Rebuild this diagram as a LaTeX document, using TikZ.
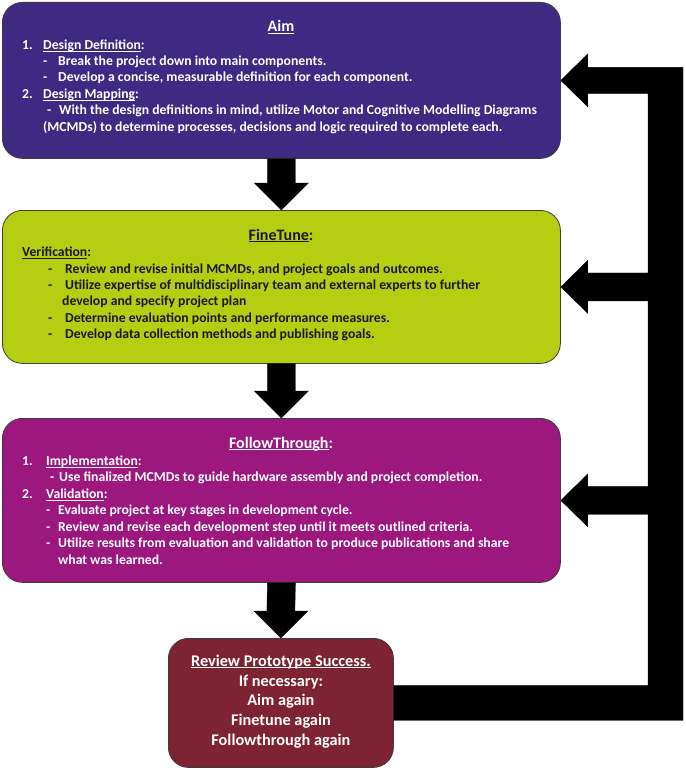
\documentclass[tikz,border=0pt]{standalone}
\usepackage{fontspec}
\setmainfont{Carlito}
\usetikzlibrary{calc}
\definecolor{aimc}{RGB}{62,41,131}
\definecolor{finec}{RGB}{181,206,18}
\definecolor{follc}{RGB}{156,24,126}
\definecolor{revc}{RGB}{126,35,50}
\definecolor{edgec}{RGB}{60,60,60}
\definecolor{darktxt}{RGB}{25,25,25}
\newsavebox\ulbox
\newcommand{\ulx}[1]{\sbox\ulbox{#1}\rlap{\rule[-2.2pt]{\wd\ulbox}{0.9pt}}\usebox\ulbox}
\tikzset{
  box/.style={draw=edgec, line width=0.8pt, rounded corners=20pt, anchor=north west, inner sep=0pt},
  body/.style={font=\fontsize{13.7}{16.5}\selectfont\bfseries, inner sep=0pt, anchor=base west},
  ttl/.style={font=\fontsize{16}{19}\selectfont\bfseries, inner sep=0pt, anchor=base},
  revtxt/.style={font=\fontsize{16.3}{20}\selectfont\bfseries, inner sep=0pt, anchor=base, text=white},
  bigarrow/.style={fill=black, draw=black, line width=0.3pt}
}
\begin{document}
\begin{tikzpicture}[x=1pt,y=1pt]
\useasboundingbox (0,0) rectangle (685,-770);
% boxes
\node[box, fill=aimc, minimum width=558pt, minimum height=156pt] (aim) at (2,-2) {};
\node[box, fill=finec, minimum width=558pt, minimum height=153pt] (fine) at (2,-210) {};
\node[box, fill=follc, minimum width=558pt, minimum height=164pt] (foll) at (2,-418) {};
\node[box, fill=revc, minimum width=225pt, minimum height=129pt] (rev) at (168,-638) {};

% down arrows
\foreach \a/\b in {aim/fine, fine/foll, foll/rev}{
  \fill[bigarrow] ($(\a.south)+(-14,0)$) -- ($(\a.south)+(14,0)$)
    -- ($(\b.north)+(14,27)$) -- ($(\b.north)+(27,27)$) -- (\b.north)
    -- ($(\b.north)+(-27,27)$) -- ($(\b.north)+(-14,27)$) -- cycle;
}
% feedback loop
\coordinate (vx) at (648,0);
\coordinate (vr) at (683,0);
\fill[bigarrow] ($(rev.east)+(0,17.5)$) -- ($(vx |- rev.east)+(0,17.5)$)
  -- ($(vx |- foll.east)+(0,-14)$) -- ($(foll.east)+(27,-14)$) -- ($(foll.east)+(27,-26.5)$) -- (foll.east)
  -- ($(foll.east)+(27,26.5)$) -- ($(foll.east)+(27,14)$) -- ($(vx |- foll.east)+(0,14)$)
  -- ($(vx |- fine.east)+(0,-14)$) -- ($(fine.east)+(27,-14)$) -- ($(fine.east)+(27,-26.5)$) -- (fine.east)
  -- ($(fine.east)+(27,26.5)$) -- ($(fine.east)+(27,14)$) -- ($(vx |- fine.east)+(0,14)$)
  -- ($(vx |- aim.east)+(0,-13)$) -- ($(aim.east)+(27,-13)$) -- ($(aim.east)+(27,-26.5)$) -- (aim.east)
  -- ($(aim.east)+(27,26.5)$) -- ($(aim.east)+(27,13)$) -- ($(vr |- aim.east)+(0,13)$)
  -- ($(vr |- rev.east)+(0,-17.5)$) -- ($(rev.east)+(0,-17.5)$) -- cycle;

% Aim text
\begin{scope}[text=white]
\node[ttl] (aimt) at (281,-32) {\ulx{Aim}};
\node[body] (a1n) at (22,-49.5) {1.};
\node[body] (a1) at (43,-49.5) {\ulx{Design Definition}:};
\node[body] (a2d) at (43,-65.5) {-};
\node[body] (a2) at (58,-65.5) {Break the project down into main components.};
\node[body] (a3d) at (43,-82) {-};
\node[body] (a3) at (58,-82) {Develop a concise, measurable definition for each component.};
\node[body] (a4n) at (22,-98.5) {2.};
\node[body] (a4) at (43,-98.5) {\ulx{Design Mapping}:};
\node[body] (a5d) at (47,-115) {-};
\node[body] (a5) at (59,-115) {With the design definitions in mind, utilize Motor and Cognitive Modelling Diagrams};
\node[body] (a6) at (43,-131.5) {(MCMDs) to determine processes, decisions and logic required to complete each.};
\end{scope}

% FineTune text
\begin{scope}[text=darktxt]
\node[ttl] (ft) at (281,-240) {\ulx{FineTune}:};
\node[body] (f1) at (22,-256.5) {\ulx{Verification}:};
\node[body] (f2d) at (48,-273.5) {-};
\node[body] (f2) at (65,-273.5) {Review and revise initial MCMDs, and project goals and outcomes.};
\node[body] (f3d) at (48,-289.5) {-};
\node[body] (f3) at (65,-289.5) {Utilize expertise of multidisciplinary team and external experts to further};
\node[body] (f4) at (62,-305.5) {develop and specify project plan};
\node[body] (f5d) at (48,-322) {-};
\node[body] (f5) at (65,-322) {Determine evaluation points and performance measures.};
\node[body] (f6d) at (48,-338.5) {-};
\node[body] (f6) at (65,-338.5) {Develop data collection methods and publishing goals.};
\end{scope}

% FollowThrough text
\begin{scope}[text=white]
\node[ttl] (flt) at (281,-448) {\ulx{FollowThrough}:};
\node[body] (l1n) at (22,-465.5) {1.};
\node[body] (l1) at (46,-465.5) {\ulx{Implementation}:};
\node[body] (l2d) at (50,-481.5) {-};
\node[body] (l2) at (59,-481.5) {Use finalized MCMDs to guide hardware assembly and project completion.};
\node[body] (l3n) at (22,-498.5) {2.};
\node[body] (l3) at (46,-498.5) {\ulx{Validation}:};
\node[body] (l4d) at (46,-514.5) {-};
\node[body] (l4) at (58,-514.5) {Evaluate project at key stages in development cycle.};
\node[body] (l5d) at (46,-531) {-};
\node[body] (l5) at (58,-531) {Review and revise each development step until it meets outlined criteria.};
\node[body] (l6d) at (46,-547.5) {-};
\node[body] (l6) at (58,-547.5) {Utilize results from evaluation and validation to produce publications and share};
\node[body] (l7) at (58,-564) {what was learned.};
\end{scope}

% Review text
\node[revtxt] (r1) at (rev.north |- 0,-666) {\ulx{Review Prototype Success.}};
\node[revtxt] (r2) at (rev.north |- 0,-686) {If necessary:};
\node[revtxt] (r3) at (rev.north |- 0,-705.5) {Aim again};
\node[revtxt] (r4) at (rev.north |- 0,-725) {Finetune again};
\node[revtxt] (r5) at (rev.north |- 0,-745) {Followthrough again};
\end{tikzpicture}
\end{document}
